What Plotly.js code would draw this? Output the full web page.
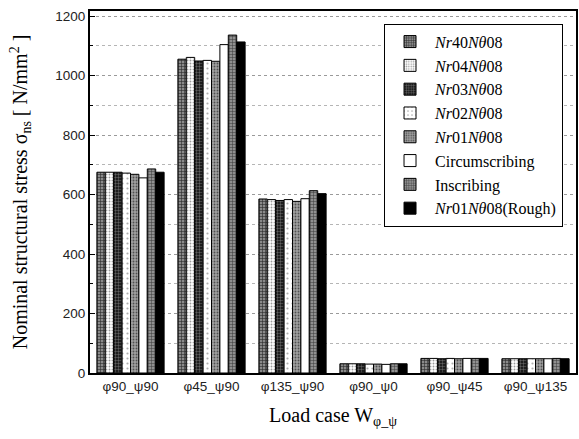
<!DOCTYPE html>
<html>
<head>
<meta charset="utf-8">
<script src="https://cdn.plot.ly/plotly-3.0.1.min.js"></script>
<style>html,body{margin:0;padding:0;background:#fff;}#chart{width:579px;height:439px;}</style>
</head>
<body>
<div id="chart"></div>
<script>
const categories = ["φ90_ψ90", "φ45_ψ90", "φ135_ψ90", "φ90_ψ0", "φ90_ψ45", "φ90_ψ135"];
const seriesNames = [
  "<i>Nr</i>40<i>Nθ</i>08",
  "<i>Nr</i>04<i>Nθ</i>08",
  "<i>Nr</i>03<i>Nθ</i>08",
  "<i>Nr</i>02<i>Nθ</i>08",
  "<i>Nr</i>01<i>Nθ</i>08",
  "Circumscribing",
  "Inscribing",
  "<i>Nr</i>01<i>Nθ</i>08(Rough)"
];
const nr40 = [675, 1055, 585, 31, 49, 48];
const nr04 = [675, 1061, 583, 31, 49, 48];
const nr03 = [675, 1049, 580, 31, 48, 48];
const nr02 = [672, 1051, 583, 30, 49, 48];
const nr01 = [668, 1048, 577, 30, 48, 48];
const circumscribing = [656, 1104, 586, 29, 49, 48];
const inscribing = [686, 1136, 613, 31, 49, 49];
const rough = [675, 1113, 603, 31, 49, 48];
const seriesValues = [nr40, nr04, nr03, nr02, nr01, circumscribing, inscribing, rough];

const styles = [
  {color: "#8a8a8a", pattern: {shape: "+", fgcolor: "#2a2a2a", size: 3, solidity: 0.35}},
  {color: "#ffffff", pattern: {shape: ".", fgcolor: "#9a9a9a", size: 3, solidity: 0.3}},
  {color: "#1e1e1e", pattern: {shape: "+", fgcolor: "#9a9a9a", size: 3, solidity: 0.2}},
  {color: "#ffffff", pattern: {shape: ".", fgcolor: "#b0b0b0", size: 5, solidity: 0.15}},
  {color: "#a0a0a0", pattern: {shape: ".", fgcolor: "#505050", size: 3, solidity: 0.3}},
  {color: "#ffffff"},
  {color: "#909090", pattern: {shape: "+", fgcolor: "#3a3a3a", size: 3, solidity: 0.3}},
  {color: "#000000"}
];

const traces = seriesNames.map((name, i) => {
  const m = {color: styles[i].color, line: {color: "#000", width: 1}};
  if (styles[i].pattern) {
    m.pattern = Object.assign({bgcolor: styles[i].color, fillmode: "replace"}, styles[i].pattern);
  }
  return {type: "bar", name: name, x: categories, y: seriesValues[i], marker: m};
});

const serif = "Liberation Serif, Times New Roman, serif";
const sans = "Liberation Sans, Arial, sans-serif";

const layout = {
  width: 579, height: 439,
  margin: {l: 90, r: 3, t: 11, b: 66},
  paper_bgcolor: "#fff", plot_bgcolor: "#fff",
  barmode: "group", bargap: 0.17, bargroupgap: 0,
  showlegend: true,
  legend: {
    x: 0.605, y: 0.965, xanchor: "left", yanchor: "top",
    bgcolor: "#fff", bordercolor: "#000", borderwidth: 1,
    font: {family: serif, size: 16, color: "#000"},
    tracegroupgap: 0, itemwidth: 40
  },
  xaxis: {
    type: "category",
    showline: true, linecolor: "#000", linewidth: 2, mirror: true,
    ticks: "", showgrid: false,
    tickfont: {family: sans, size: 13.5, color: "#222"},
    title: {text: "Load case W<sub>φ_ψ</sub>", font: {family: serif, size: 20, color: "#000"}, standoff: 15}
  },
  yaxis: {
    range: [0, 1217], dtick: 200, tick0: 0,
    showline: true, linecolor: "#000", linewidth: 2, mirror: true,
    ticks: "inside", ticklen: 5, tickcolor: "#000",
    showgrid: true, gridcolor: "#9a9a9a", griddash: "dot", gridwidth: 1,
    zeroline: false,
    minor: {dtick: 100, showgrid: true, gridcolor: "#b5b5b5", griddash: "dot", ticks: "inside", ticklen: 3, tickcolor: "#000"},
    tickfont: {family: sans, size: 13.5, color: "#222"},
    title: {text: "Nominal structural stress σ<sub>ns</sub> [ N/mm<sup>2</sup> ]", font: {family: serif, size: 20, color: "#000"}, standoff: 22}
  }
};

Plotly.newPlot("chart", traces, layout, {displayModeBar: false, staticPlot: true});
</script>
</body>
</html>
